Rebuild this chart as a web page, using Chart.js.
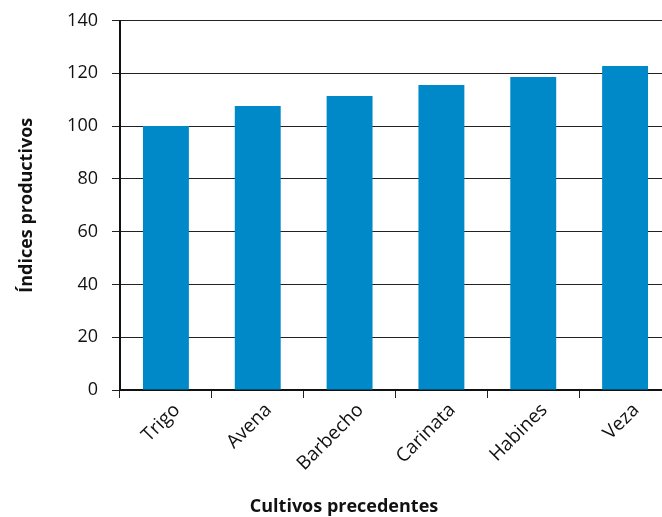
<!DOCTYPE html>
<html>
<head>
<meta charset="utf-8">
<script src="https://cdn.jsdelivr.net/npm/chart.js@4"></script>
<style>
  html, body { margin: 0; padding: 0; background: #fff; overflow: hidden; }
  #wrap { width: 684px; height: 517px; }
</style>
</head>
<body>
<div id="wrap"><canvas id="c" width="684" height="517"></canvas></div>
<script>
// Cultivo precedente y su índice productivo (Trigo = 100)
const categories = ['Trigo', 'Avena', 'Barbecho', 'Carinata', 'Habines', 'Veza'];
const indices = [100, 107.6, 111.4, 115.6, 118.6, 122.8];
const yTicks = [0, 20, 40, 60, 80, 100, 120, 140];
const xTitle = 'Cultivos precedentes';

const fontFamily = '"Open Sans", "Noto Sans", sans-serif';

// Título del eje X, centrado bajo la parte visible de la figura
const xTitlePlugin = {
  id: 'xTitle',
  afterDraw(chart) {
    const { ctx, chartArea } = chart;
    ctx.save();
    ctx.font = `bold 18px ${fontFamily}`;
    ctx.fillStyle = '#111';
    ctx.textAlign = 'center';
    ctx.textBaseline = 'middle';
    ctx.fillText(xTitle, chartArea.left + 224, 507);
    ctx.restore();
  }
};

new Chart(document.getElementById('c'), {
  type: 'bar',
  data: {
    labels: categories,
    datasets: [{
      data: indices,
      backgroundColor: '#0089c9',
      borderWidth: 0,
      barPercentage: 0.5,
      categoryPercentage: 1.0
    }]
  },
  plugins: [xTitlePlugin],
  options: {
    responsive: false,
    animation: false,
    layout: { padding: { top: 20.5, right: 13, left: 0, bottom: 0 } },
    plugins: {
      legend: { display: false },
      tooltip: { enabled: false }
    },
    scales: {
      x: {
        offset: true,
        grid: {
          offset: true,
          drawOnChartArea: false,
          drawTicks: true,
          tickLength: 8,
          color: '#222',
          lineWidth: 1
        },
        border: { color: '#111', width: 2 },
        ticks: {
          color: '#111',
          font: { family: fontFamily, size: 19 },
          minRotation: 45,
          maxRotation: 45,
          labelOffset: 11,
          padding: 1
        },
        afterFit: s => { s.height = 127; }
      },
      y: {
        min: 0,
        max: 140,
        afterBuildTicks: s => { s.ticks = yTicks.map(v => ({ value: v })); },
        grid: {
          color: '#222',
          lineWidth: 1,
          tickLength: 8
        },
        border: { color: '#111', width: 2 },
        ticks: {
          color: '#111',
          font: { family: fontFamily, size: 18 },
          padding: 14
        },
        title: {
          display: true,
          text: 'Índices productivos',
          color: '#111',
          font: { family: fontFamily, size: 18, weight: 'bold' },
          padding: { top: 16, bottom: 0 }
        },
        afterFit: s => { s.width = 120; s.paddingTop = 0; s.paddingBottom = 0; }
      }
    }
  }
});
</script>
</body>
</html>
